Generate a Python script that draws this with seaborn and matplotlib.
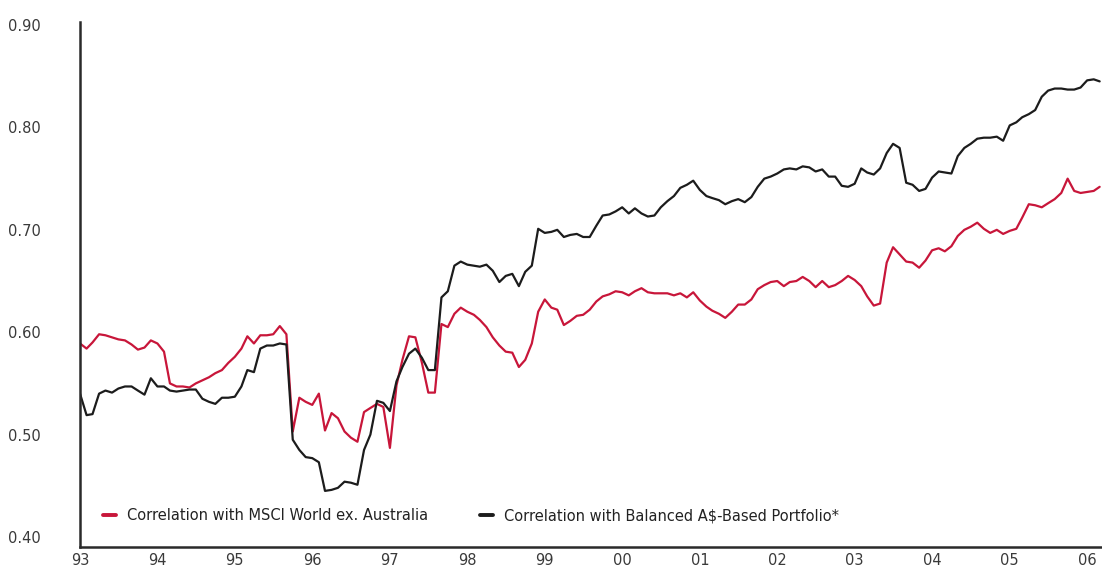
import numpy as np
import pandas as pd
import matplotlib
matplotlib.use("Agg")
import matplotlib.pyplot as plt
import seaborn as sns

# Monthly observations, Jan 1993 .. Mar 2006
start_month = "1993-01-01"
n_months = 159

msci_world = [
    0.589, 0.584, 0.590, 0.598, 0.597, 0.595, 0.593, 0.592, 0.588, 0.583,
    0.585, 0.592, 0.589, 0.581, 0.550, 0.547, 0.547, 0.546, 0.550, 0.553,
    0.556, 0.560, 0.563, 0.570, 0.576, 0.584, 0.596, 0.589, 0.597, 0.597,
    0.598, 0.606, 0.598, 0.503, 0.536, 0.532, 0.529, 0.540, 0.504, 0.521,
    0.516, 0.503, 0.497, 0.493, 0.522, 0.526, 0.530, 0.527, 0.487, 0.548,
    0.573, 0.596, 0.595, 0.570, 0.541, 0.541, 0.608, 0.605, 0.618, 0.624,
    0.620, 0.617, 0.612, 0.605, 0.595, 0.587, 0.581, 0.580, 0.566, 0.573,
    0.589, 0.620, 0.632, 0.624, 0.622, 0.607, 0.611, 0.616, 0.617, 0.622,
    0.630, 0.635, 0.637, 0.640, 0.639, 0.636, 0.640, 0.643, 0.639, 0.638,
    0.638, 0.638, 0.636, 0.638, 0.634, 0.639, 0.631, 0.625, 0.621, 0.618,
    0.614, 0.620, 0.627, 0.627, 0.632, 0.642, 0.646, 0.649, 0.650, 0.645,
    0.649, 0.650, 0.654, 0.650, 0.644, 0.650, 0.644, 0.646, 0.650, 0.655,
    0.651, 0.645, 0.635, 0.626, 0.628, 0.668, 0.683, 0.676, 0.669, 0.668,
    0.663, 0.670, 0.680, 0.682, 0.679, 0.684, 0.694, 0.700, 0.703, 0.707,
    0.701, 0.697, 0.700, 0.696, 0.699, 0.701, 0.712, 0.725, 0.724, 0.722,
    0.726, 0.730, 0.736, 0.750, 0.738, 0.736, 0.737, 0.738, 0.742,
]

balanced_portfolio = [
    0.540, 0.519, 0.520, 0.540, 0.543, 0.541, 0.545, 0.547, 0.547, 0.543,
    0.539, 0.555, 0.547, 0.547, 0.543, 0.542, 0.543, 0.544, 0.544, 0.535,
    0.532, 0.530, 0.536, 0.536, 0.537, 0.547, 0.563, 0.561, 0.584, 0.587,
    0.587, 0.589, 0.588, 0.495, 0.485, 0.478, 0.477, 0.473, 0.445, 0.446,
    0.448, 0.454, 0.453, 0.451, 0.485, 0.500, 0.533, 0.531, 0.523, 0.552,
    0.566, 0.579, 0.584, 0.575, 0.563, 0.563, 0.634, 0.640, 0.665, 0.669,
    0.666, 0.665, 0.664, 0.666, 0.660, 0.649, 0.655, 0.657, 0.645, 0.659,
    0.665, 0.701, 0.697, 0.698, 0.700, 0.693, 0.695, 0.696, 0.693, 0.693,
    0.704, 0.714, 0.715, 0.718, 0.722, 0.716, 0.721, 0.716, 0.713, 0.714,
    0.722, 0.728, 0.733, 0.741, 0.744, 0.748, 0.739, 0.733, 0.731, 0.729,
    0.725, 0.728, 0.730, 0.727, 0.732, 0.742, 0.750, 0.752, 0.755, 0.759,
    0.760, 0.759, 0.762, 0.761, 0.757, 0.759, 0.752, 0.752, 0.743, 0.742,
    0.745, 0.760, 0.756, 0.754, 0.760, 0.775, 0.784, 0.780, 0.746, 0.744,
    0.738, 0.740, 0.751, 0.757, 0.756, 0.755, 0.772, 0.780, 0.784, 0.789,
    0.790, 0.790, 0.791, 0.787, 0.802, 0.805, 0.810, 0.813, 0.817, 0.830,
    0.836, 0.838, 0.838, 0.837, 0.837, 0.839, 0.846, 0.847, 0.845,
]

series_names = [
    "Correlation with MSCI World ex. Australia",
    "Correlation with Balanced A\\$-Based Portfolio*",
]
series_colors = ["#c8163a", "#1c1c1c"]

y_ticks = [0.40, 0.50, 0.60, 0.70, 0.80, 0.90]
x_tick_years = list(range(1993, 2007))

dates = pd.date_range(start_month, periods=n_months, freq="MS")
df = pd.concat([
    pd.DataFrame({"date": dates, "value": msci_world, "series": series_names[0]}),
    pd.DataFrame({"date": dates, "value": balanced_portfolio, "series": series_names[1]}),
])

sns.set_style("white")
plt.rcParams["font.family"] = ["DejaVu Sans"]

fig = plt.figure(figsize=(11.02, 5.71), dpi=100)
ax = fig.add_axes([80 / 1102, 24 / 571, 1 - 80 / 1102, (547 - 22) / 571])

sns.lineplot(data=df, x="date", y="value", hue="series",
             palette=dict(zip(series_names, series_colors)),
             linewidth=1.6, ax=ax, legend=True)

ax.set_xlim(pd.Timestamp("1993-01-01"), pd.Timestamp("2006-03-12"))
ax.set_ylim(0.3902, 0.903)

ax.set_yticks(y_ticks)
ax.set_yticklabels([f"{v:.2f}" for v in y_ticks])
ax.set_xticks([pd.Timestamp(f"{y}-01-01") for y in x_tick_years])
ax.set_xticklabels([f"{y % 100:02d}" for y in x_tick_years])
ax.tick_params(axis="both", length=0, labelsize=10.5, colors="#3a3a3a")
ax.tick_params(axis="y", pad=52)
ax.tick_params(axis="x", pad=4)
for lbl in ax.get_yticklabels():
    lbl.set_horizontalalignment("left")

ax.set_xlabel("")
ax.set_ylabel("")
for s in ["top", "right"]:
    ax.spines[s].set_visible(False)
for s in ["left", "bottom"]:
    ax.spines[s].set_color("#2a2a2a")
    ax.spines[s].set_linewidth(1.8)

handles, labels = ax.get_legend_handles_labels()
for h in handles:
    h.set_linewidth(2.8)
ax.legend(handles, labels, loc="lower left", bbox_to_anchor=(0.01, 0.02),
          ncol=2, frameon=False, fontsize=10.5, handlelength=0.9,
          handletextpad=0.7, columnspacing=3.6, labelcolor="#222222")

fig.savefig("out.png", dpi=100)
